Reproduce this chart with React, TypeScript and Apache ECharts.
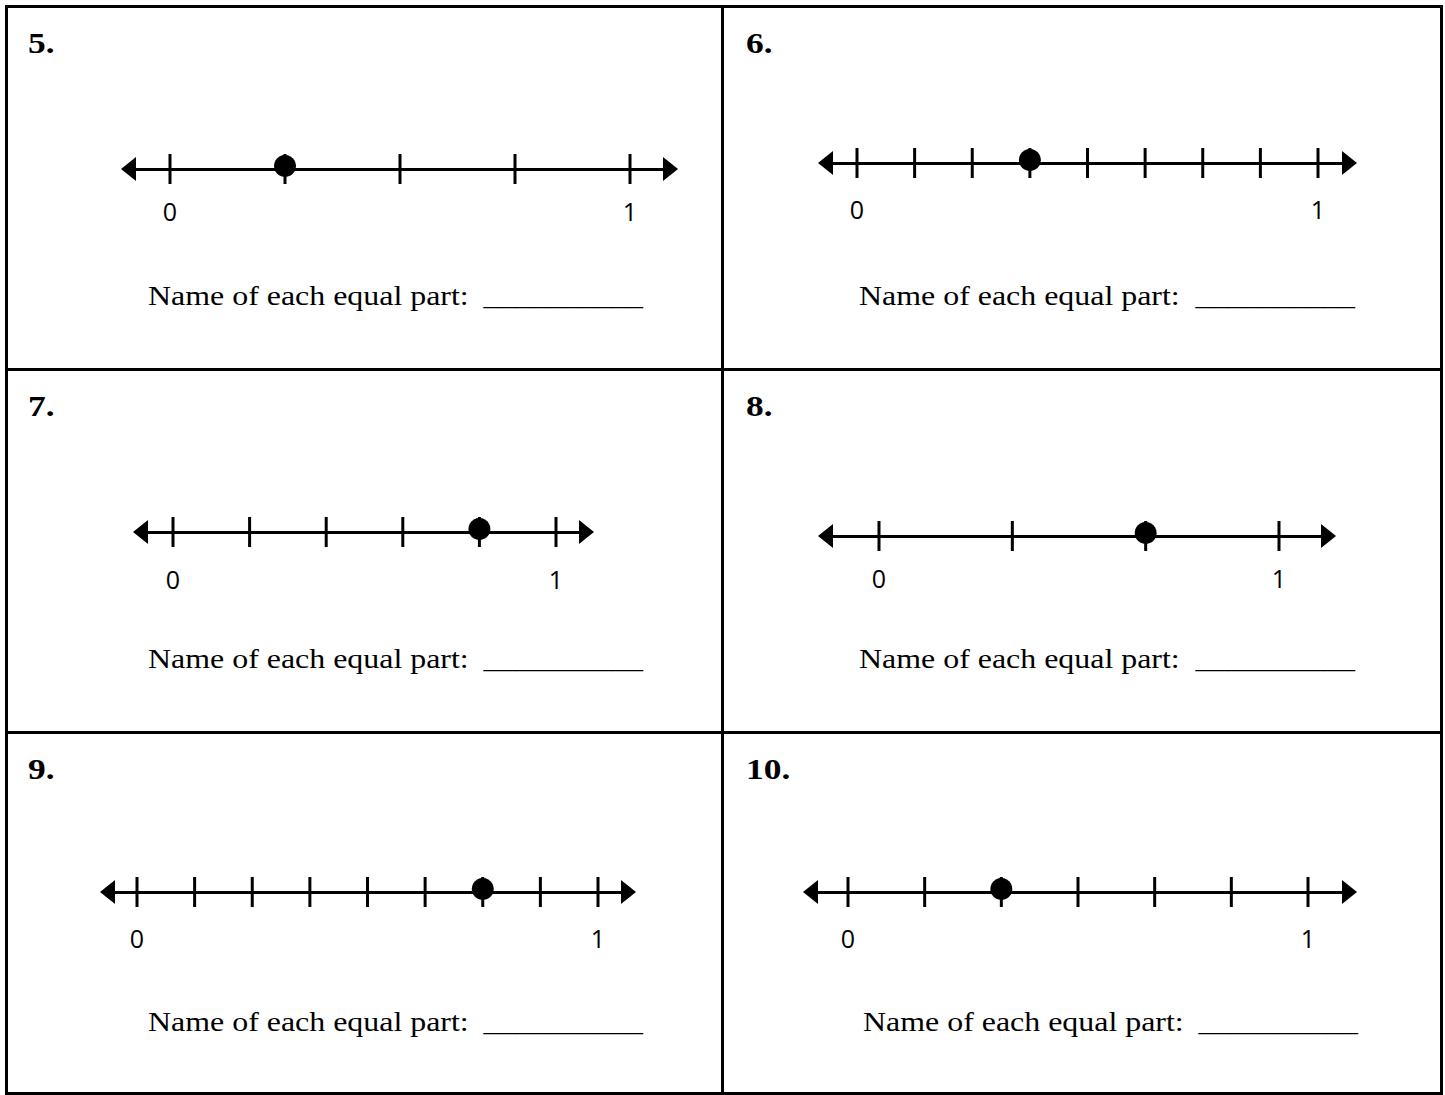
import React, { useEffect, useRef } from 'react';
import * as echarts from 'echarts';

// ---- content ----
const problemNumbers = ['5.', '6.', '7.', '8.', '9.', '10.'];
const equalParts = [4, 8, 5, 3, 8, 6];
const pointIndex = [1, 3, 4, 2, 6, 2];
const endLabels = ['0', '1'];
const endValues = [0, 1];
const promptText = 'Name of each equal part:';
const blankText = '__________';

// ---- layout (pixels) ----
const zeroPx = [170, 857, 173, 879, 137, 848];
const onePx = [630, 1318, 556, 1279, 598, 1308];
const lineY = [169, 163, 532, 536, 892, 892];
const tipLeft = [121, 818, 133, 818, 100, 803];
const tipRight = [678, 1357, 594, 1336, 636, 1357];
const labelDy = [42, 46, 47, 42, 46, 46];
const numberX = [28, 746, 28, 746, 28, 746];
const rowTop = [0, 0, 363, 363, 726, 726];
const promptX = [148, 859, 148, 859, 148, 863];
const blankRight = [643, 1355, 643, 1355, 643, 1358];

const W = 1445;
const H = 1095;
const ARROW_LEN = 15;
const ARROW_W = 24;
const SERIF = "'Liberation Serif', 'Times New Roman', serif";

export default function App() {
  const ref = useRef<HTMLDivElement>(null);

  useEffect(() => {
    if (!ref.current) return;
    const chart = echarts.init(ref.current, null, { renderer: 'svg', width: W, height: H });

    const grids: any[] = [];
    const xAxes: any[] = [];
    const yAxes: any[] = [];
    const series: any[] = [];

    equalParts.forEach((n, i) => {
      const s = onePx[i] - zeroPx[i];
      const eL = tipLeft[i] + ARROW_LEN / 2;
      const eR = tipRight[i] - ARROW_LEN / 2;
      // axis sits at the grid's bottom edge (y = 0 of a 0..1 y axis)
      grids.push({ left: eL, top: lineY[i] - 40, width: eR - eL, height: 40 });
      xAxes.push({
        gridIndex: i,
        type: 'value',
        min: (eL - zeroPx[i]) / s,
        max: (eR - zeroPx[i]) / s,
        axisLine: {
          show: true,
          onZero: false,
          symbol: ['triangle', 'triangle'],
          symbolSize: [ARROW_W, ARROW_LEN],
          lineStyle: { color: '#000', width: 3 },
        },
        axisTick: { show: false },
        splitLine: { show: false },
        axisLabel: {
          show: true,
          customValues: endValues,
          formatter: (v: number) => endLabels[Math.round(v)],
          margin: labelDy[i] - 12.5,
          color: '#000',
          fontFamily: "'Open Sans', sans-serif",
          fontSize: 25,
          showMinLabel: true,
          showMaxLabel: true,
        },
      });
      yAxes.push({ gridIndex: i, type: 'value', min: 0, max: 1, show: false });
      const ticks: number[][] = [];
      for (let k = 0; k <= n; k++) ticks.push([k / n, 0]);
      series.push({
        type: 'scatter',
        xAxisIndex: i,
        yAxisIndex: i,
        symbol: 'rect',
        symbolSize: [3, 30],
        itemStyle: { color: '#000', opacity: 1 },
        data: ticks,
        z: 3,
        silent: true,
      });
      series.push({
        type: 'scatter',
        xAxisIndex: i,
        yAxisIndex: i,
        symbol: 'circle',
        symbolSize: 22,
        symbolOffset: [0, -3],
        itemStyle: { color: '#000', opacity: 1 },
        data: [[pointIndex[i] / n, 0]],
        z: 4,
        silent: true,
      });
    });

    const graphic: any[] = [];
    const lineStyle = { stroke: '#000', lineWidth: 3 };
    [6.5, 722.5, 1441.5].forEach((x) =>
      graphic.push({ type: 'line', shape: { x1: x, y1: 5, x2: x, y2: 1095 }, style: lineStyle })
    );
    [6.5, 369.5, 732.5, 1093.5].forEach((y) =>
      graphic.push({ type: 'line', shape: { x1: 5, y1: y, x2: 1443, y2: y }, style: lineStyle })
    );
    problemNumbers.forEach((label, i) => {
      graphic.push({
        type: 'text',
        x: numberX[i],
        y: 43 + rowTop[i],
        scaleX: 1.18,
        style: {
          text: label,
          fontFamily: SERIF,
          fontSize: 30,
          fontWeight: 'bold',
          fill: '#000',
          align: 'left',
          textAlign: 'left',
          verticalAlign: 'middle',
          textVerticalAlign: 'middle',
        },
      });
      graphic.push({
        type: 'text',
        x: promptX[i],
        y: 295 + rowTop[i],
        scaleX: 1.14,
        style: {
          text: promptText,
          fontFamily: SERIF,
          fontSize: 28,
          fill: '#000',
          align: 'left',
          textAlign: 'left',
          verticalAlign: 'middle',
          textVerticalAlign: 'middle',
        },
      });
      graphic.push({
        type: 'text',
        x: blankRight[i],
        y: 295 + rowTop[i],
        scaleX: 1.14,
        style: {
          text: blankText,
          fontFamily: SERIF,
          fontSize: 28,
          fill: '#000',
          align: 'right',
          textAlign: 'right',
          verticalAlign: 'middle',
          textVerticalAlign: 'middle',
        },
      });
    });

    chart.setOption({
      animation: false,
      backgroundColor: '#fff',
      grid: grids,
      xAxis: xAxes,
      yAxis: yAxes,
      series,
      graphic,
    });

    return () => chart.dispose();
  }, []);

  return (
    <div
      ref={ref}
      style={{ position: 'fixed', left: 0, top: 0, width: W, height: H, background: '#fff' }}
    />
  );
}
